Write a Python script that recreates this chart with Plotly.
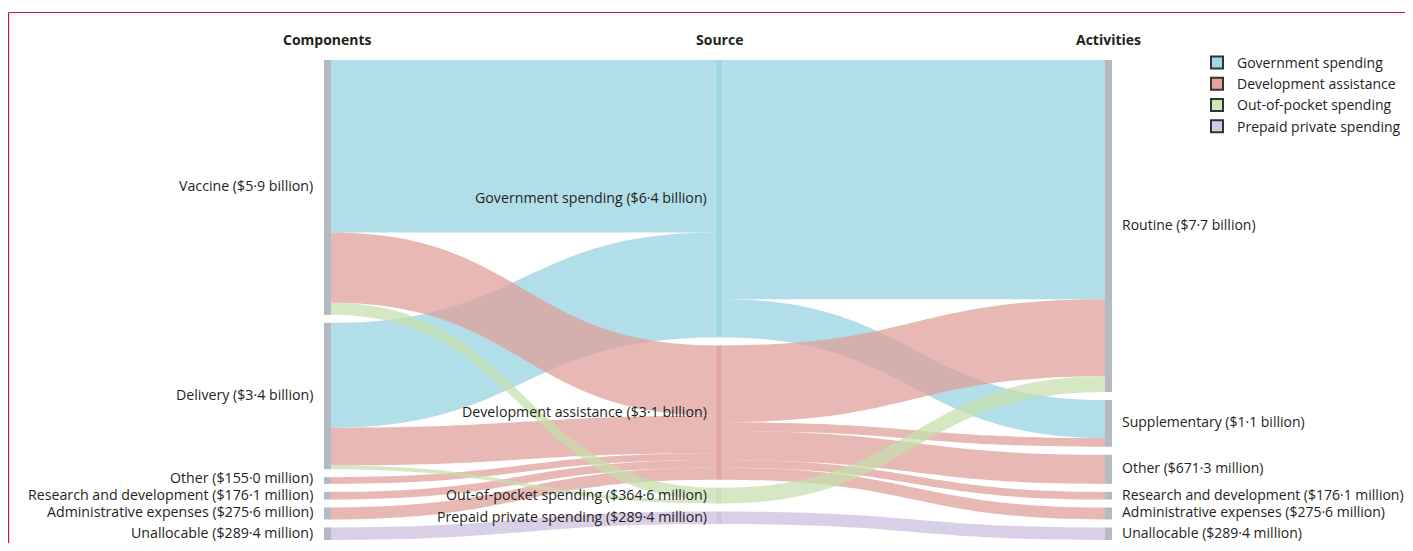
import plotly.graph_objects as go

# ---------------- data ----------------
components = ["Vaccine", "Delivery", "Other", "Research and development",
              "Administrative expenses", "Unallocable"]
component_labels = ["Vaccine ($5·9 billion)", "Delivery ($3·4 billion)", "Other ($155·0 million)",
                    "Research and development ($176·1 million)",
                    "Administrative expenses ($275·6 million)", "Unallocable ($289·4 million)"]

sources = ["Government spending", "Development assistance", "Out-of-pocket spending",
           "Prepaid private spending"]
source_labels = ["Government spending ($6·4 billion)", "Development assistance ($3·1 billion)",
                 "Out-of-pocket spending ($364·6 million)", "Prepaid private spending ($289·4 million)"]

activities = ["Routine", "Supplementary", "Other", "Research and development",
              "Administrative expenses", "Unallocable"]
activity_labels = ["Routine ($7·7 billion)", "Supplementary ($1·1 billion)", "Other ($671·3 million)",
                   "Research and development ($176·1 million)",
                   "Administrative expenses ($275·6 million)", "Unallocable ($289·4 million)"]

column_titles = ["Components", "Source", "Activities"]

# flows (US$ billion): components -> source
cs_from = ["Vaccine", "Vaccine", "Vaccine", "Delivery", "Delivery", "Delivery",
           "Other", "Research and development", "Administrative expenses", "Unallocable"]
cs_to = ["Government spending", "Development assistance", "Out-of-pocket spending",
         "Government spending", "Development assistance", "Out-of-pocket spending",
         "Development assistance", "Development assistance", "Development assistance",
         "Prepaid private spending"]
cs_value = [3.98, 1.62, 0.28, 2.42, 0.87, 0.0846, 0.155, 0.1761, 0.2756, 0.2894]

# flows (US$ billion): source -> activities
sa_from = ["Government spending", "Government spending",
           "Development assistance", "Development assistance", "Development assistance",
           "Development assistance", "Development assistance",
           "Out-of-pocket spending", "Prepaid private spending"]
sa_to = ["Routine", "Supplementary", "Routine", "Supplementary", "Other",
         "Research and development", "Administrative expenses", "Routine", "Unallocable"]
sa_value = [5.52, 0.88, 1.774, 0.2, 0.6713, 0.1761, 0.2756, 0.3646, 0.2894]

# ---------------- styling ----------------
source_base = {"Government spending": (148, 209, 224),
               "Development assistance": (223, 156, 151),
               "Out-of-pocket spending": (197, 223, 172),
               "Prepaid private spending": (202, 190, 223)}
LINK_ALPHA = 0.72
NODE_ALPHA = 0.88
legend_colors = ["rgb(160,214,234)", "rgb(228,162,160)", "rgb(204,230,183)", "rgb(214,201,232)"]
GRAY = "rgb(180,186,194)"
TEXT = "#231f20"
FONT = "Open Sans, Liberation Sans, Arial"

OFF = 8                      # page offset of the figure inside the browser window
W, HFIG = 1413 - 2 * OFF, 551 - 2 * OFF
MT = 60 - OFF
MB = HFIG - (540 - OFF)
H = HFIG - MT - MB
PAD = 8
THICK = 7
COL_X = [(327.5 - OFF) / W, (719 - OFF) / W, (1108.5 - OFF) / W]
LABEL_GAP = [9, 7, 8]
LABEL_SIZE = [14.2, 14.2, 14]
MIN_LABEL_SEP = 17

# ---------------- build nodes / links ----------------
n_c, n_s = len(components), len(sources)
idx_c = {n: i for i, n in enumerate(components)}
idx_s = {n: n_c + i for i, n in enumerate(sources)}
idx_a = {n: n_c + n_s + i for i, n in enumerate(activities)}
n_total = n_c + n_s + len(activities)

links = []
for f, t, v in zip(cs_from, cs_to, cs_value):
    links.append((idx_c[f], idx_s[t], v, t))
for f, t, v in zip(sa_from, sa_to, sa_value):
    links.append((idx_s[f], idx_a[t], v, f))
# draw order: by source category (later categories on top)
links.sort(key=lambda l: sources.index(l[3]))

src = [l[0] for l in links]
tgt = [l[1] for l in links]
val = [l[2] for l in links]
lcol = ["rgba({},{},{},{})".format(*source_base[l[3]], LINK_ALPHA) for l in links]

inflow = [0.0] * n_total
outflow = [0.0] * n_total
for s, t, v in zip(src, tgt, val):
    outflow[s] += v
    inflow[t] += v
node_val = [max(a, b) for a, b in zip(inflow, outflow)]

columns = [list(range(n_c)), list(range(n_c, n_c + n_s)), list(range(n_c + n_s, n_total))]
ky = min((H - (len(c) - 1) * PAD) / sum(node_val[i] for i in c) for c in columns)

node_x = [0.0] * n_total
node_y = [0.0] * n_total
node_cpx = [0.0] * n_total
for ci, col in enumerate(columns):
    y0 = 0.0
    for i in col:
        h = node_val[i] * ky
        node_x[i] = COL_X[ci]
        node_cpx[i] = y0 + h / 2
        node_y[i] = node_cpx[i] / H
        y0 += h + PAD

node_colors = [GRAY] * n_c + \
    ["rgba({},{},{},{})".format(*source_base[s], NODE_ALPHA) for s in sources] + \
    [GRAY] * len(activities)

fig = go.Figure()
fig.add_trace(go.Sankey(
    arrangement="fixed",
    domain=dict(x=[0, 1], y=[0, 1]),
    node=dict(label=[""] * n_total, x=node_x, y=node_y, pad=PAD, thickness=THICK,
              color=node_colors, line=dict(width=0), hoverinfo="none"),
    link=dict(source=src, target=tgt, value=val, color=lcol, hoverinfo="none"),
    textfont=dict(size=1, color="rgba(0,0,0,0)"),
))

# legend entries
for name, c in zip(sources, legend_colors):
    fig.add_trace(go.Scatter(x=[None], y=[None], mode="markers", name=name,
                             marker=dict(symbol="square", size=13, color=c,
                                         line=dict(color="#333", width=1.3))))

# ---------------- annotations ----------------
ann = []
labels_by_col = [component_labels, source_labels, activity_labels]
for ci, col in enumerate(columns):
    # label positions: node centres, pushed apart (bottom-up) when too close
    ys = [node_cpx[i] - 1.5 for i in col]
    for k in range(len(ys) - 2, -1, -1):
        if ys[k + 1] - ys[k] < MIN_LABEL_SEP:
            ys[k] = ys[k + 1] - MIN_LABEL_SEP
    right_side = ci == 2
    for k, i in enumerate(col):
        ann.append(dict(text=labels_by_col[ci][k], x=node_x[i], y=1 - ys[k] / H,
                        xref="paper", yref="paper", showarrow=False,
                        xanchor="left" if right_side else "right", yanchor="middle",
                        xshift=(THICK / 2 + LABEL_GAP[ci]) * (1 if right_side else -1),
                        font=dict(size=LABEL_SIZE[ci], color=TEXT, family=FONT)))
for ci, t in enumerate(column_titles):
    ann.append(dict(text=f"<b>{t}</b>", x=COL_X[ci], y=1 + (60 - 40) / H,
                    xref="paper", yref="paper",
                    showarrow=False, xanchor="center", yanchor="middle",
                    font=dict(size=14, color=TEXT, family=FONT)))


def px2x(p):
    return (p - OFF) / W


def py2y(p):
    return 1 - (p - OFF - MT) / H


shapes = [
    dict(type="line", xref="paper", yref="paper", x0=px2x(OFF + 0.6), x1=px2x(1420),
         y0=py2y(12.5), y1=py2y(12.5), line=dict(color="#c8144b", width=1.2)),
    dict(type="line", xref="paper", yref="paper", x0=px2x(OFF + 0.6), x1=px2x(OFF + 0.6),
         y0=py2y(12.5), y1=py2y(560), line=dict(color="#c8144b", width=1.2)),
]

fig.update_layout(
    width=W, height=HFIG,
    margin=dict(l=0, r=0, t=MT, b=MB, autoexpand=False),
    paper_bgcolor="white", plot_bgcolor="white",
    font=dict(family=FONT, color=TEXT, size=14),
    xaxis=dict(visible=False), yaxis=dict(visible=False),
    showlegend=True,
    legend=dict(x=px2x(1197), y=py2y(47), xanchor="left", yanchor="top",
                bgcolor="rgba(0,0,0,0)", font=dict(size=14, color=TEXT, family=FONT),
                itemsizing="constant", tracegroupgap=0),
    annotations=ann,
    shapes=shapes,
)

fig.write_html("out.html")
